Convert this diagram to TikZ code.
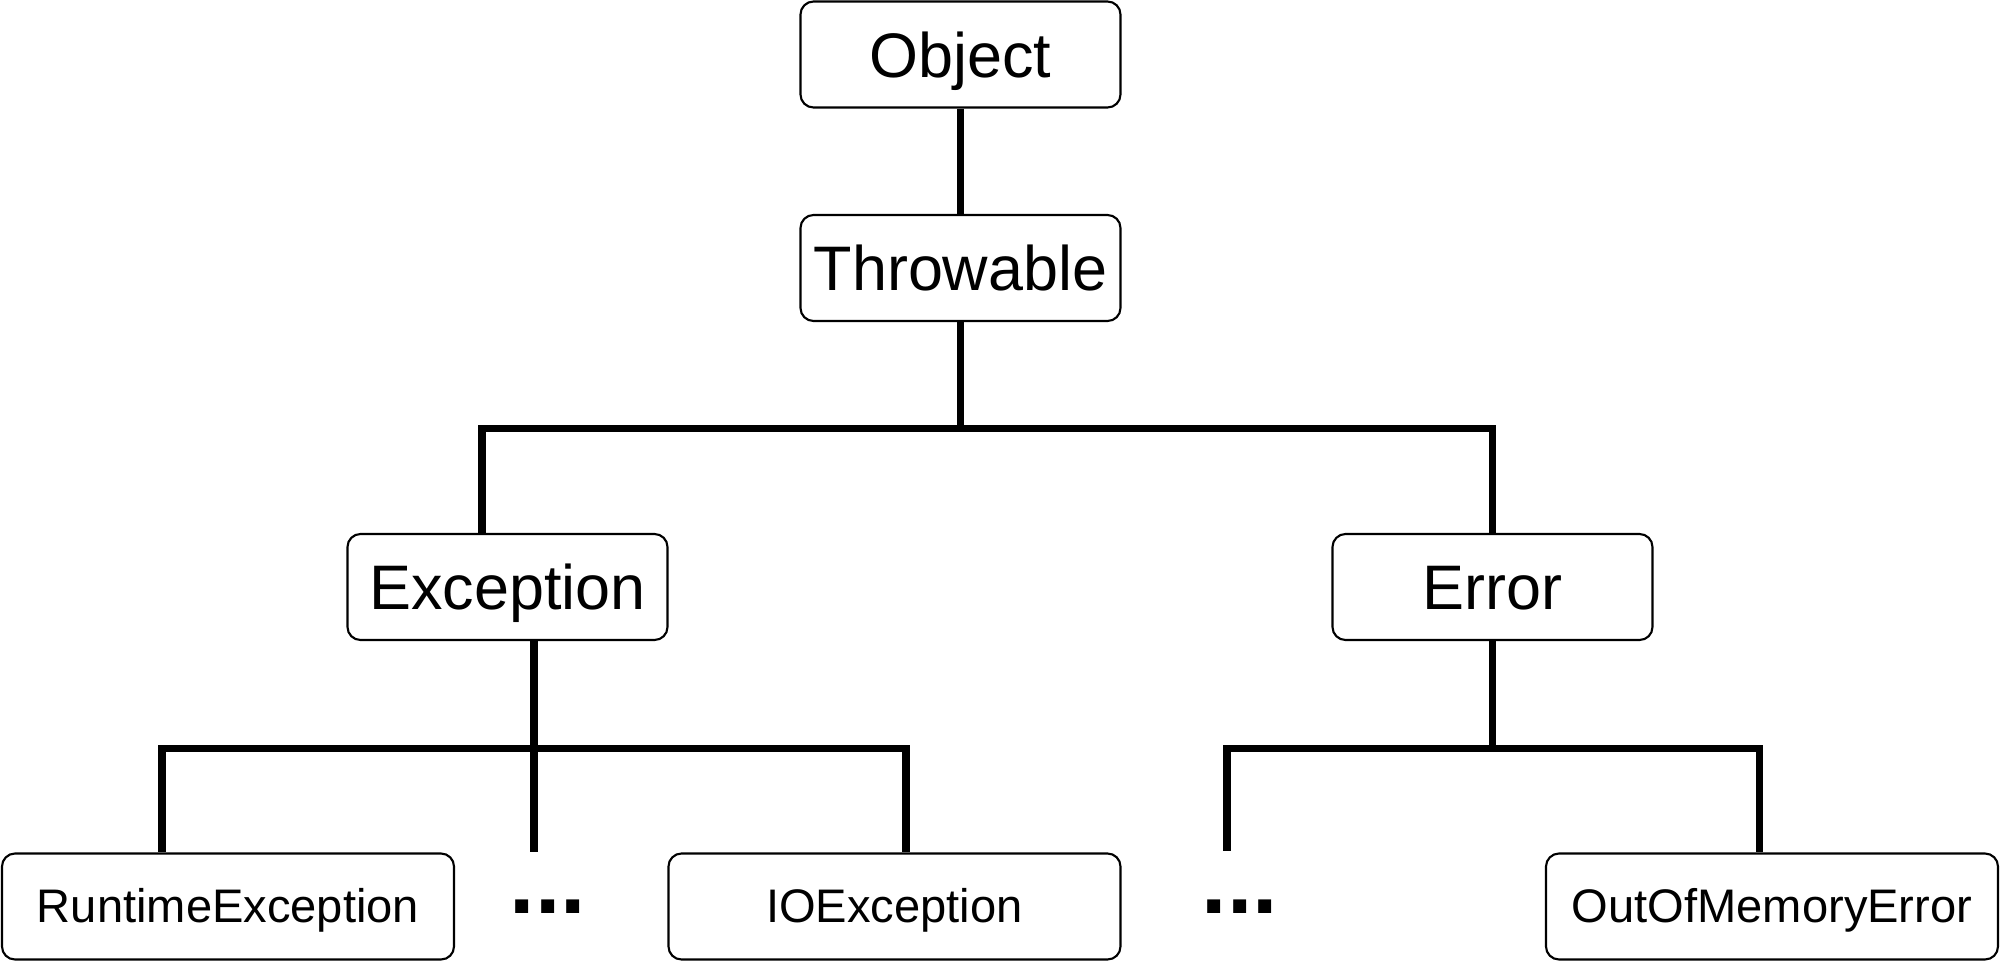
\documentclass[tikz,border=0pt]{standalone}
\usepackage{fontspec}
\setmainfont{Liberation Sans}
\begin{document}
\begin{tikzpicture}[
		cls/.style={draw, rounded corners=0.13cm, line width=0.6pt, minimum width=3.2cm, minimum height=1.06cm, inner sep=0pt, font=\fontsize{17.9}{20}\selectfont, text height=0.45cm, text depth=0pt},
		leaf/.style={cls, minimum width=4.52cm, font=\fontsize{13.4}{16}\selectfont, text height=0.32cm},
		dots/.style={anchor=base, inner sep=0pt, font=\fontsize{26}{28}\selectfont\bfseries},
		link/.style={line width=2pt}]
		\useasboundingbox (0,0) rectangle (20,-9.61);
		\node[cls] (object) at (9.605,-0.545) {Object};
		\node[cls] (throwable) at (9.605,-2.68) {Throwable};
		\node[cls] (exception) at (5.075,-5.87) {Exception};
		\node[cls] (error) at (14.925,-5.87) {Error};
		\node[leaf] (runtime) at (2.28,-9.065) {RuntimeException};
		\node[leaf] (ioexc) at (8.945,-9.065) {IOException};
		\node[leaf] (oom) at (17.72,-9.065) {OutOfMemoryError};
		\node[dots] (moreexc) at (5.48,-9.13) {...};
		\node[dots] (moreerr) at (12.40,-9.13) {...};
		\coordinate (errstub) at (12.27,-8.51);
		
		\draw[link] (object) -- (throwable);
		\draw[link] (throwable.south) -- ++(0,-1.06) -| ([xshift=-2.55mm]exception.north);
		\draw[link] (throwable.south) -- ++(0,-1.06) -| (error.north);
		\draw[link] ([xshift=2.65mm]exception.south) -- ++(0,-1.07) -| ([xshift=-6.6mm]runtime.north);
		\draw[link] ([xshift=2.65mm]exception.south) -- ++(0,-1.07) -| ([xshift=1.15mm]ioexc.north);
		\draw[link] ([xshift=2.65mm]exception.south) -- ([xshift=2.65mm]exception.south |- runtime.north);
		\draw[link] (error.south) -- ++(0,-1.07) -| (errstub);
		\draw[link] (error.south) -- ++(0,-1.07) -| ([xshift=-1.3mm]oom.north);
	\end{tikzpicture}
\end{document}
